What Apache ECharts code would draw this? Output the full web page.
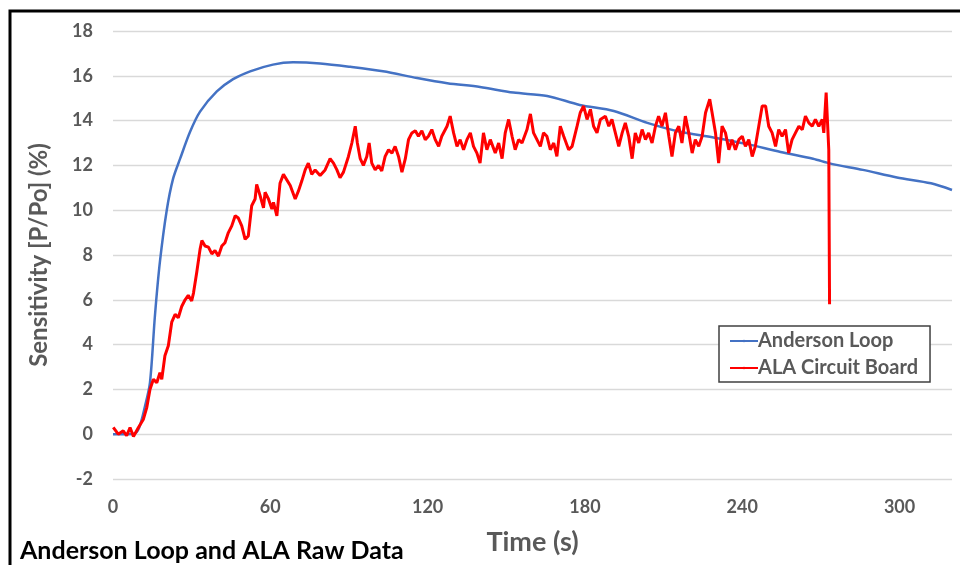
<!DOCTYPE html>
<html>
<head>
<meta charset="utf-8">
<script src="https://cdn.jsdelivr.net/npm/echarts@6/dist/echarts.min.js"></script>
<style>html,body{margin:0;padding:0;background:#fff;}#c{width:960px;height:565px;}</style>
</head>
<body>
<div id="c"></div>
<script>
const seriesNames = ['Anderson Loop', 'ALA Circuit Board'];
const xTicks = [0, 60, 120, 180, 240, 300];
const yTicks = [-2, 0, 2, 4, 6, 8, 10, 12, 14, 16, 18];

const andersonLoop = [
  [0,0],[4,0],[8,0.02],[10,0.3],[12.2,1.25],[14.1,2.3],[16,5.3],[17.9,7.7],[20.5,10.0],[22.9,11.4],
  [25.6,12.3],[29.4,13.5],[33.2,14.4],[39.6,15.3],[45.8,15.85],[52.3,16.2],[61,16.5],[68.7,16.6],
  [79,16.55],[90.5,16.4],[103,16.2],[116,15.9],[127.5,15.67],[140,15.5],[152.7,15.25],[165.6,15.1],
  [178,14.7],[191,14.43],[203.8,13.9],[216.4,13.5],[229,13.25],[242,12.95],[254.6,12.6],[267,12.3],
  [273.7,12.08],[286,11.8],[299,11.46],[312,11.2],[320,10.9]
];

const alaCircuitBoard = [
  [0.1,0.3],[2,0.0],[3.9,0.15],[5.2,-0.07],[6.5,0.3],[7.8,-0.1],[9.7,0.3],[11.6,0.67],[12.9,1.2],
  [14.1,2.0],[15.4,2.45],[16.7,2.3],[17.9,2.75],[18.6,2.45],[19.8,3.5],[21.1,3.95],[22.4,5.0],[23.7,5.35],
  [24.9,5.2],[26.2,5.7],[27.5,6.0],[28.7,6.2],[30,5.95],[30.7,6.3],[31.9,7.2],[33.2,8.25],[33.9,8.65],
  [35.1,8.4],[36.4,8.35],[37.7,8.05],[38.9,8.2],[40.2,7.95],[41.5,8.4],[42.7,8.55],[44,9.0],[45.3,9.3],
  [46.6,9.75],[47.8,9.65],[49.1,9.3],[50.4,8.7],[51.6,8.85],[52.9,10.2],[54.2,10.5],[54.8,11.15],
  [56.1,10.65],[57.4,10.1],[58,10.8],[59.3,10.5],[60.6,10.05],[61.2,10.35],[62.5,9.75],[63.7,11.2],
  [65,11.6],[67.6,11.1],[69.5,10.5],[70.7,10.85],[72,11.3],[73.3,11.8],[74.5,12.1],[75.8,11.6],
  [77.1,11.8],[79,11.55],[80.9,11.8],[82.8,12.3],[84.1,12.1],[85.4,11.8],[86.6,11.45],[87.9,11.7],
  [89.8,12.4],[91.1,13.0],[92.4,13.75],[93.2,13.0],[94.3,12.3],[95.5,12.0],[96.8,12.4],[97.7,13.0],
  [98.7,12.1],[100,11.8],[101.3,12.0],[102.5,11.75],[103.8,12.4],[105.1,12.7],[106.4,12.55],[107.6,12.85],
  [108.9,12.4],[110.2,11.7],[111.5,12.3],[112.7,13.15],[114,13.45],[115.3,13.55],[116.5,13.3],[117.8,13.55],
  [119.1,13.15],[120.3,13.3],[121.6,13.6],[122.9,13.15],[124.2,12.85],[125.4,13.3],[127.4,13.75],[128.6,14.2],
  [129.9,13.45],[131.2,12.85],[132.4,13.15],[133.7,12.7],[135,13.15],[136.3,13.45],[137.5,12.85],[138.8,12.55],
  [140,12.1],[141.3,13.45],[142.6,12.7],[143.9,13.15],[145.8,12.55],[147.1,13.0],[148.4,12.3],[149.6,13.45],
  [150.9,14.05],[152.2,13.3],[153.4,12.7],[154.7,13.15],[156,13.0],[157.9,13.6],[159.2,14.3],[160.4,13.45],
  [161.7,13.15],[163,12.85],[164.2,13.45],[165.5,13.3],[166.8,12.7],[168.1,13.0],[169.3,12.4],[170.6,13.75],
  [171.9,13.3],[173.8,12.7],[175.1,12.85],[177,13.75],[178.2,14.35],[179.5,14.65],[180.8,14.05],[182.1,14.5],
  [183.3,13.75],[184.6,13.45],[185.9,14.05],[187.8,14.2],[189.1,13.75],[190.3,14.05],[191.6,13.45],[192.9,12.85],
  [194.2,13.45],[195.4,13.9],[196.7,13.3],[198,12.3],[199.2,13.45],[200.5,13.0],[201.8,13.6],[203.1,13.15],
  [204.3,13.45],[205.6,13.0],[206.9,13.75],[208.1,14.2],[209.4,13.75],[210.7,14.35],[212,13.3],[213.2,12.4],
  [214.5,13.45],[215.8,13.75],[217,13.0],[218.3,14.2],[219.6,13.45],[220.9,12.55],[222.1,13.15],[223.4,12.85],
  [224.7,13.3],[226,14.35],[227.6,14.95],[228.5,14.35],[229.8,13.45],[231,12.1],[232.3,13.75],[233.6,13.45],
  [234.9,12.7],[236.1,13.15],[237.4,12.7],[238.7,13.15],[240,13.3],[241.2,12.85],[242.5,13.15],[243.8,12.4],
  [245,12.85],[246.3,13.75],[247.6,14.65],[248.9,14.65],[250.1,13.75],[251.4,13.45],[252.7,12.85],[253.9,13.6],
  [255.2,13.3],[256.5,13.6],[257.7,12.55],[259,13.15],[260.3,13.45],[261.6,13.75],[262.9,13.6],[264.1,14.2],
  [265.4,13.9],[266.7,13.75],[267.9,14.05],[269.2,13.75],[270.5,14.05],[271.1,13.45],[272,15.25],[272.6,15.3],
  [273,12.7],[273.3,5.8]
];

const chart = echarts.init(document.getElementById('c'), null, {renderer: 'canvas'});
const FONT = 'Lato, "Open Sans", sans-serif';
const GREY = '#595959';

chart.setOption({
  animation: false,
  backgroundColor: '#ffffff',
  grid: {left: 113, right: 8, top: 31, bottom: 86, outerBoundsMode: 'none', containLabel: false},
  title: {
    text: 'Anderson Loop and ALA Raw Data',
    left: 15, top: 533,
    textStyle: {fontFamily: FONT, fontWeight: 'bold', fontSize: 25, color: '#000'}
  },
  legend: {
    data: seriesNames,
    orient: 'vertical',
    left: 719, top: 326,
    padding: [5, 12, 4, 10],
    itemGap: 7,
    itemWidth: 28, itemHeight: 3,
    borderColor: '#404040', borderWidth: 1.5,
    backgroundColor: '#fff',
    textStyle: {fontFamily: FONT, fontWeight: 'bold', fontSize: 20, color: GREY, padding: [0,0,0,-5]}
  },
  graphic: [{
    type: 'rect', z: 100, silent: true,
    shape: {x: 10, y: 11, width: 1000, height: 600},
    style: {fill: 'none', stroke: '#000', lineWidth: 3}
  }],
  xAxis: {
    type: 'value', min: 0, max: 320, interval: 60,
    name: 'Time (s)', nameLocation: 'middle', nameGap: 50,
    nameTextStyle: {fontFamily: FONT, fontWeight: 'bold', fontSize: 27, color: GREY},
    axisLine: {show: false}, axisTick: {show: false}, splitLine: {show: false},
    axisLabel: {
      margin: 19, fontFamily: FONT, fontWeight: 'bold', fontSize: 18, color: GREY,
      showMaxLabel: false,
      formatter: v => xTicks.includes(v) ? String(v) : ''
    }
  },
  yAxis: {
    type: 'value', min: -2, max: 18, interval: 2,
    name: 'Sensitivity [P/Po] (%)', nameLocation: 'middle', nameGap: 62, nameRotate: 90,
    nameTextStyle: {fontFamily: FONT, fontWeight: 'bold', fontSize: 24, color: GREY},
    axisLine: {show: false}, axisTick: {show: false},
    splitLine: {show: true, lineStyle: {color: '#d9d9d9', width: 1.3}},
    axisLabel: {
      margin: 20, fontFamily: FONT, fontWeight: 'bold', fontSize: 18, color: GREY,
      formatter: v => yTicks.includes(v) ? String(v) : ''
    }
  },
  series: [
    {
      name: seriesNames[0], type: 'line', data: andersonLoop, symbol: 'none', smooth: 0.3,
      lineStyle: {color: '#4472C4', width: 2.5}, itemStyle: {color: '#4472C4'}, z: 2
    },
    {
      name: seriesNames[1], type: 'line', data: alaCircuitBoard, symbol: 'none',
      lineStyle: {color: '#FF0000', width: 3}, itemStyle: {color: '#FF0000'}, z: 3
    }
  ]
});
</script>
</body>
</html>
